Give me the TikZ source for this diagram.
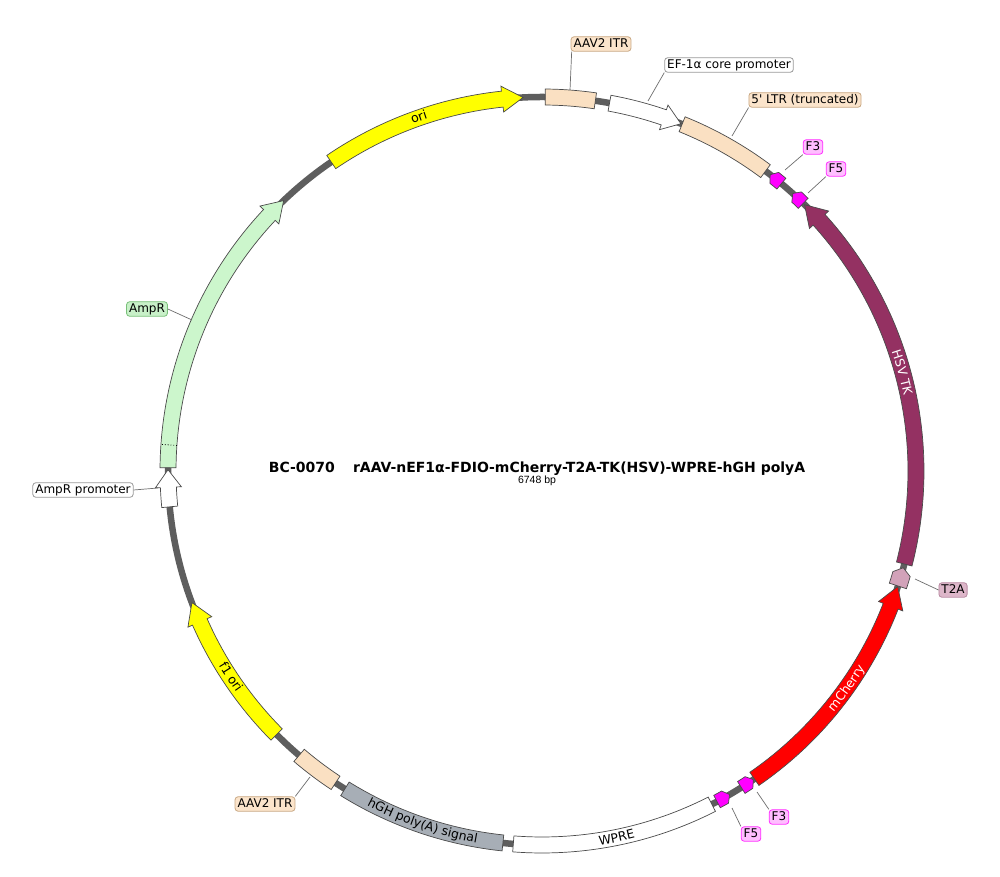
\documentclass[tikz,border=0pt]{standalone}
\usepackage{fontspec}
\setmainfont{DejaVu Sans}[Ligatures=TeXOff]
\newfontfamily\arialf{Liberation Sans}
\usetikzlibrary{decorations.text}
\definecolor{bb}{HTML}{5E5E5E}
\definecolor{ol}{HTML}{4A4A4A}
\definecolor{peach}{HTML}{FAE0C2}
\definecolor{peachl}{HTML}{FBE4CB}
\definecolor{peachd}{HTML}{C9A883}
\definecolor{tk}{HTML}{943162}
\definecolor{t2a}{HTML}{D2A2B9}
\definecolor{t2al}{HTML}{DDB6C9}
\definecolor{t2ad}{HTML}{B98AA2}
\definecolor{hgh}{HTML}{A7AEB6}
\definecolor{ampr}{HTML}{CCF6CC}
\definecolor{amprl}{HTML}{C8F0C8}
\definecolor{amprd}{HTML}{78C078}
\definecolor{mag}{HTML}{FF00FF}
\definecolor{magl}{HTML}{FFBEFF}
\definecolor{magd}{HTML}{FF30FF}
\definecolor{yel}{HTML}{FFFF00}
\definecolor{leadc}{HTML}{6E6E6E}
\definecolor{grayb}{HTML}{9A9A9A}

\newcommand{\itxt}{\fontsize{12.5}{14}\selectfont}
\newcommand{\featbox}[3]{\draw[feat,#3] (#1:366pt) arc[start angle=#1,end angle=#2,radius=366pt] -- (#2:382pt) arc[start angle=#2,end angle=#1,radius=382pt] -- cycle;}
\newcommand{\featarrow}[4]{\draw[feat,#4] (#1:366pt) arc[start angle=#1,end angle=#2,radius=366pt] -- (#2:361pt) -- (#3:374pt) -- (#2:387pt) -- (#2:382pt) arc[start angle=#2,end angle=#1,radius=382pt] -- cycle;}
\newcommand{\pent}[6]{\draw[feat,#6] (#1:#4) arc[start angle=#1,end angle=#2,radius=#4] -- (#3:374pt) -- (#2:#5) arc[start angle=#2,end angle=#1,radius=#5] -- cycle;}
\newcommand{\toptext}[4]{\path[decorate,decoration={text along path,text align=center,text color=#3,text={|\itxt|#4}}] ({#1+20}:#2) arc[start angle={#1+20},end angle={#1-20},radius=#2];}
\newcommand{\bottext}[4]{\path[decorate,decoration={text along path,text align=center,text color=#3,text={|\itxt|#4}}] ({#1-20}:#2) arc[start angle={#1-20},end angle={#1+20},radius=#2];}

\begin{document}
\begin{tikzpicture}[x=1pt,y=1pt,
  feat/.style={draw=ol,line width=0.7pt,line join=miter},
  backbone/.style={draw=bb,line width=6.5pt},
  lab/.style={draw,rounded corners=3pt,inner xsep=2.5pt,inner ysep=1.5pt,line width=0.8pt,
    font=\fontsize{12}{14}\selectfont,text height=9pt,text depth=2.5pt},
  leader/.style={draw=leadc,line width=0.7pt}]
\useasboundingbox (0,0) rectangle (1000,877);
\fill[white] (0,0) rectangle (1000,877);
\coordinate (ctr) at (542,406);
\begin{scope}[shift={(ctr)}]
  \draw[backbone] (0,0) circle[radius=374pt];
  % ori
  \featarrow{124.3}{96.1}{92.9}{fill=yel}
  \toptext{109.2}{370.5pt}{black}{ori}
  % AAV2 ITR top
  \featbox{89.5}{81.8}{fill=peach}
  % EF-1a core promoter
  \featarrow{79.6}{71.0}{68.2}{fill=white}
  % 5' LTR
  \featbox{68.0}{53.3}{fill=peach}
  % F3, F5 top
  \pent{50.2}{51.6}{52.4}{367pt}{381pt}{fill=mag}
  \pent{45.7}{47.1}{47.9}{367pt}{381pt}{fill=mag}
  % HSV TK
  \featarrow{-14.4}{42.2}{45.4}{fill=tk}
  \toptext{15.3}{369.5pt}{white}{HSV TK}
  % T2A
  \pent{-17.9}{-16.0}{-15.0}{365pt}{383pt}{fill=t2a}
  % mCherry
  \featarrow{-55.4}{-21.2}{-18.0}{fill=red}
  \bottext{-35.5}{378.5pt}{white}{mCherry}
  % F3, F5 bottom
  \pent{-57.8}{-56.4}{-55.6}{367pt}{381pt}{fill=mag}
  \pent{-62.1}{-60.7}{-59.9}{367pt}{381pt}{fill=mag}
  % WPRE
  \featbox{-63.0}{-94.4}{fill=white}
  \bottext{-78.5}{378.5pt}{black}{WPRE}
  % hGH poly(A)
  \featbox{-96.0}{-121.8}{fill=hgh}
  \bottext{-108.8}{377.5pt}{black}{hGH poly(A) signal}
  % AAV2 ITR bottom
  \featbox{-123.5}{-130.5}{fill=peach}
  % f1 ori
  \featarrow{-135.2}{-156.2}{-159.4}{fill=yel}
  \bottext{-146.5}{377.5pt}{black}{f1 ori}
  % AmpR promoter
  \featarrow{-174.5}{-177.5}{-180.2}{fill=white}
  % AmpR
  \featarrow{179.5}{136.8}{133.7}{fill=ampr}
  \draw[dotted,line width=0.8pt] (176:366pt) -- (176:382pt);
\end{scope}

% feature anchor points
\coordinate (pITR1) at (570,787);
\coordinate (pEF) at (648,776);
\coordinate (pLTR) at (732,741);
\coordinate (pF3a) at (785,707);
\coordinate (pF5a) at (808,684);
\coordinate (pT2A) at (915,298);
\coordinate (pF3b) at (757,85);
\coordinate (pF5b) at (732,69);
\coordinate (pITR2) at (310,100);
\coordinate (pAmpR) at (192,557);
\coordinate (pAmpRp) at (158,389);

% labels
\node[lab,fill=peachl,draw=peachd] (labITR1) at (601,833) {AAV2 ITR};
\node[lab,fill=white,draw=grayb] (labEF) at (729,812) {EF-1α core promoter};
\node[lab,fill=peachl,draw=peachd] (labLTR) at (805,777) {5' LTR (truncated)};
\node[lab,fill=magl,draw=magd] (labF3a) at (813,730) {F3};
\node[lab,fill=magl,draw=magd] (labF5a) at (836,708) {F5};
\node[lab,fill=t2al,draw=t2ad] (labT2A) at (953,287) {T2A};
\node[lab,fill=magl,draw=magd] (labF3b) at (779,60) {F3};
\node[lab,fill=magl,draw=magd] (labF5b) at (751,43) {F5};
\node[lab,fill=peachl,draw=peachd] (labITR2) at (265,73) {AAV2 ITR};
\node[lab,fill=amprl,draw=amprd] (labAmpR) at (147,568) {AmpR};
\node[lab,fill=white,draw=grayb] (labAmpRp) at (83,387) {AmpR promoter};

\draw[leader] (pITR1) -- ([xshift=1pt]labITR1.south west);
\draw[leader] (pEF) -- (labEF.south west);
\draw[leader] (pLTR) -- (labLTR.south west);
\draw[leader] (pF3a) -- (labF3a.south west);
\draw[leader] (pF5a) -- (labF5a.south west);
\draw[leader] (pT2A) -- (labT2A.west);
\draw[leader] (pF3b) -- (labF3b.north west);
\draw[leader] (pF5b) -- (labF5b.north west);
\draw[leader] (pITR2) -- (labITR2.north east);
\draw[leader] (pAmpR) -- (labAmpR.east);
\draw[leader] (pAmpRp) -- (labAmpRp.east);

% title
\node[anchor=base,font=\bfseries\fontsize{14}{16}\selectfont,inner sep=0pt] (title) at (537,404)
  {BC-0070\hspace{1.3em}rAAV-nEF1α-FDIO-mCherry-T2A-TK(HSV)-WPRE-hGH polyA};
\node[anchor=base,font=\arialf\fontsize{10.5}{12}\selectfont,inner sep=0pt] (size) at (537,393.5) {6748 bp};
\end{tikzpicture}
\end{document}
